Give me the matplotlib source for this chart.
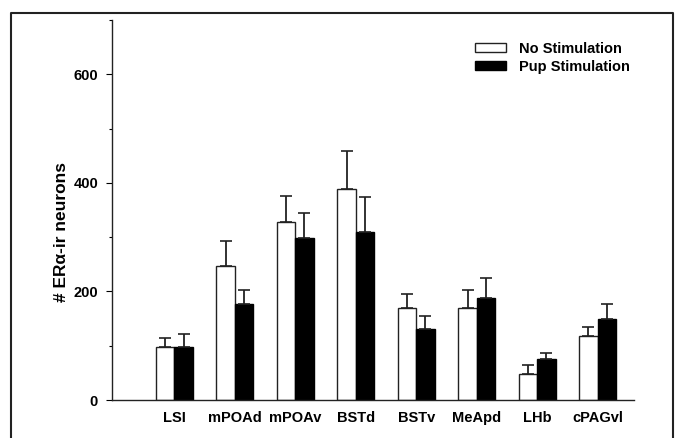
import matplotlib
matplotlib.use("Agg")
import matplotlib.pyplot as plt
from matplotlib.lines import Line2D
import numpy as np

plt.rcParams['font.family'] = ['Liberation Sans', 'DejaVu Sans']
plt.rcParams['font.weight'] = 'bold'

regions = ['LSI', 'mPOAd', 'mPOAv', 'BSTd', 'BSTv', 'MeApd', 'LHb', 'cPAGvl']
no_stim = [98, 247, 328, 389, 169, 169, 48, 117]
no_stim_err = [17, 45, 48, 70, 27, 33, 17, 18]
pup_stim = [98, 177, 298, 309, 131, 187, 75, 150]
pup_stim_err = [23, 25, 46, 65, 24, 37, 11, 27]

W, H = 690, 438
fig = plt.figure(figsize=(W / 100, H / 100), dpi=100)
# axes placed in pixel terms of the reference
left, right, top, bottom = 112, 634, 20, 400
ax = fig.add_axes([left / W, 1 - bottom / H, (right - left) / W, (bottom - top) / H])

x = np.arange(1, len(regions) + 1)
w = 0.305
err_kw = dict(ecolor='#222222', elinewidth=1.3, capsize=4, capthick=1.2)
ax.bar(x - w / 2, no_stim, w, color='white', edgecolor='#222222', linewidth=1.0,
       yerr=[np.zeros(len(x)), no_stim_err], error_kw=err_kw, label='No Stimulation')
ax.bar(x + w / 2, pup_stim, w, color='black', edgecolor='black', linewidth=1.0,
       yerr=[np.zeros(len(x)), pup_stim_err], error_kw=err_kw, label='Pup Stimulation')

ax.set_xlim(-0.03, 8.6)
ax.set_ylim(0, 700)
ax.set_yticks([0, 200, 400, 600])
ax.set_yticks([100, 300, 500, 700], minor=True)
ax.tick_params(axis='y', which='major', length=4, width=0.8, labelsize=10.5, pad=6)
ax.tick_params(axis='y', which='minor', length=2, width=0.8)
ax.set_xticks(x)
ax.set_xticklabels(regions, fontsize=10.5, fontweight='bold')
ax.tick_params(axis='x', length=0, pad=8)
for lab in ax.get_yticklabels():
    lab.set_fontweight('bold')

for s in ['top', 'right']:
    ax.spines[s].set_visible(False)
for s in ['left', 'bottom']:
    ax.spines[s].set_linewidth(1.0)
    ax.spines[s].set_color('#222222')

fig.text(62 / W, 1 - 232 / H, '# ER\u03b1-ir neurons', rotation=90,
         ha='center', va='center', fontsize=12.5, fontweight='bold')

ax.legend(loc='upper left', bbox_to_anchor=((475 - left) / (right - left), (bottom - 42) / (bottom - top)),
          frameon=False, fontsize=10.5, borderpad=0, borderaxespad=0,
          handlelength=2.1, handleheight=0.55, handletextpad=0.9, labelspacing=0.25)

# outer frame of the figure panel
fx0, fx1, fy0 = 11 / W, 672.5 / W, 1 - 13 / H
frame = Line2D([fx0, fx0, fx1, fx1], [-0.1, fy0, fy0, -0.1], transform=fig.transFigure,
               color='#222222', linewidth=1.5)
fig.add_artist(frame)

fig.savefig('out.png', dpi=100)
